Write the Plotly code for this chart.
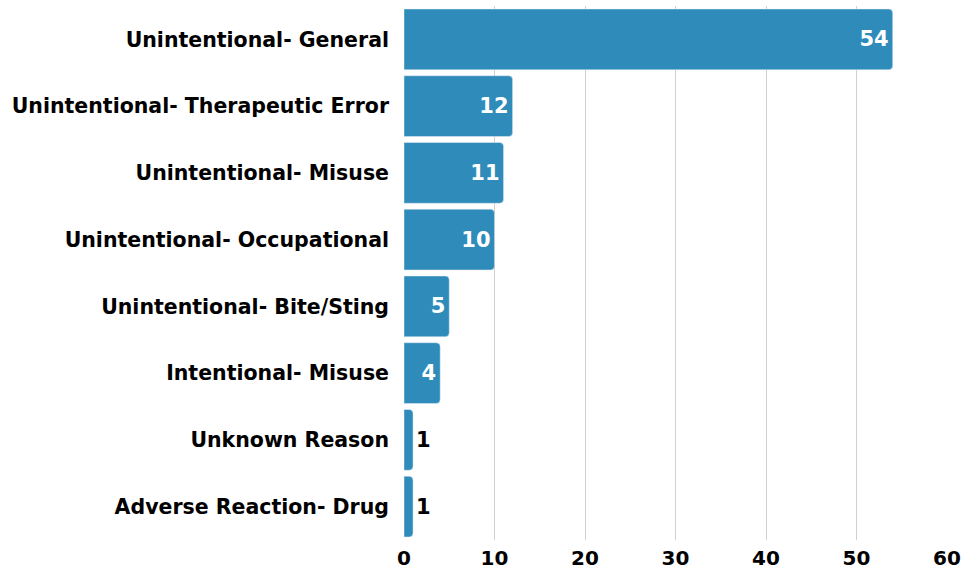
import plotly.graph_objects as go

categories = [
    "Unintentional- General",
    "Unintentional- Therapeutic Error",
    "Unintentional- Misuse",
    "Unintentional- Occupational",
    "Unintentional- Bite/Sting",
    "Intentional- Misuse",
    "Unknown Reason",
    "Adverse Reaction- Drug",
]
counts = [54, 12, 11, 10, 5, 4, 1, 1]
x_ticks = [0, 10, 20, 30, 40, 50, 60]

BAR_COLOR = "#2E8BBA"
FONT = "DejaVu Sans"

fig = go.Figure()
fig.add_trace(go.Bar(
    x=counts,
    y=categories,
    orientation="h",
    marker=dict(color=BAR_COLOR, cornerradius=4),
    text=counts,
    textposition="auto",
    insidetextanchor="end",
    insidetextfont=dict(color="white", size=21, family=FONT, weight=700),
    outsidetextfont=dict(color="black", size=21, family=FONT, weight=700),
    cliponaxis=False,
    showlegend=False,
))

fig.update_layout(
    width=966,
    height=569,
    plot_bgcolor="white",
    paper_bgcolor="white",
    bargap=0.09,
    margin=dict(l=404, r=19, t=6, b=29, autoexpand=False),
    font=dict(family=FONT, size=20, color="black", weight=700),
)
fig.update_xaxes(
    range=[0, 60],
    tickvals=x_ticks,
    showgrid=True,
    gridcolor="#D0D0D0",
    gridwidth=1,
    zeroline=False,
    showline=False,
    ticks="",
    ticklabelstandoff=4,
    tickfont=dict(size=20, family=FONT, weight=700),
    fixedrange=True,
)
fig.update_yaxes(
    autorange="reversed",
    showgrid=False,
    ticks="",
    ticklabelstandoff=14,
    tickfont=dict(size=20.5, family=FONT, weight=700),
)

# page body has an 8px default margin; drop it so the figure fills the window
fig.write_html(
    "out.html",
    config={"displayModeBar": False},
    post_script="document.body.style.margin='0';",
)
